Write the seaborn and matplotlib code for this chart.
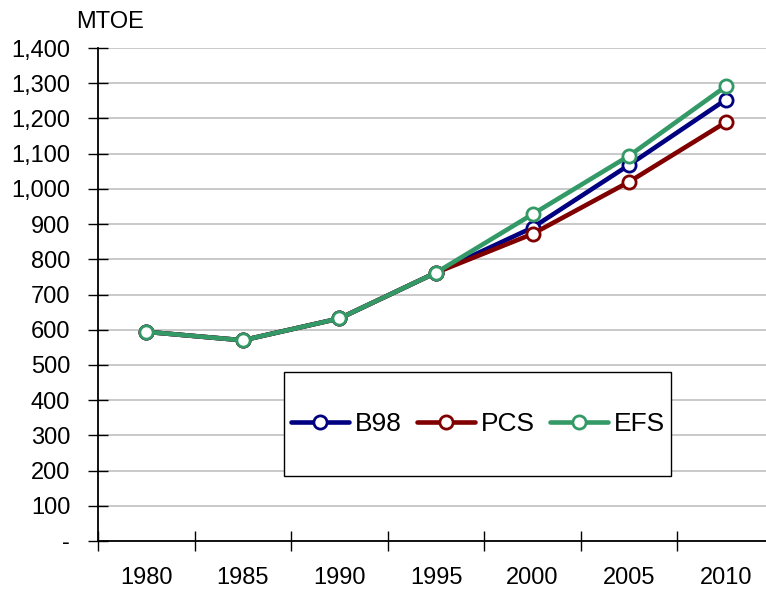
import matplotlib
matplotlib.use("Agg")
import matplotlib.pyplot as plt
import matplotlib.ticker as mticker
from matplotlib.patches import Rectangle
import seaborn as sns

years = ["1980", "1985", "1990", "1995", "2000", "2005", "2010"]
b98 = [594, 570, 632, 762, 890, 1068, 1253]
pcs = [594, 570, 632, 762, 872, 1020, 1189]
efs = [594, 570, 632, 762, 928, 1094, 1291]
series_names = ["B98", "PCS", "EFS"]
colors = ["#000080", "#800000", "#339966"]
y_ticks = list(range(0, 1401, 100))

sns.set_style("white")
plt.rcParams["font.family"] = ["Liberation Sans", "DejaVu Sans"]
plt.rcParams["text.color"] = "black"
plt.rcParams["xtick.color"] = "black"
plt.rcParams["ytick.color"] = "black"
plt.rcParams["axes.labelcolor"] = "black"

fig = plt.figure(figsize=(7.66, 5.90), dpi=100)
ax = fig.add_axes([98 / 766, 49 / 590, 676 / 766, 493 / 590])

for name, vals, col in zip(series_names, [b98, pcs, efs], colors):
    sns.lineplot(x=years, y=vals, ax=ax, color=col, label=name, sort=False,
                 linewidth=3.3, marker="o", markersize=9.5,
                 markerfacecolor="white", markeredgecolor=col,
                 markeredgewidth=2.0, zorder=3)

ax.set_xlim(-0.5, 6.5)
ax.set_ylim(0, 1400)
ax.set_yticks(y_ticks)
ax.yaxis.set_major_formatter(mticker.FuncFormatter(
    lambda v, p: "-" if v == 0 else f"{int(v):,}"))
ax.set_xticks(range(len(years)))
ax.set_xticklabels(years)
ax.set_xticks([i - 0.5 for i in range(len(years) + 1)], minor=True)
ax.tick_params(axis="x", which="major", bottom=True, length=0, pad=19,
               labelsize=17, labelcolor="black")
ax.tick_params(axis="x", which="minor", bottom=True, direction="inout",
               length=14, width=1, color="black")
ax.tick_params(axis="y", which="major", left=True, direction="inout",
               length=14, width=1, color="black", pad=13, labelsize=17,
               labelcolor="black")
ax.set_xlabel("")
ax.set_ylabel("")

ax.grid(axis="y", color="#c0c0c0", linewidth=1.2)
ax.grid(axis="x", visible=False)
ax.set_axisbelow(True)
for s in ["top", "right"]:
    ax.spines[s].set_visible(False)
for s in ["left", "bottom"]:
    ax.spines[s].set_color("black")
    ax.spines[s].set_linewidth(1.3)

rect = Rectangle((0.275, 0.132), 0.573, 0.211, transform=ax.transAxes,
                 facecolor="white", edgecolor="black", linewidth=1.0,
                 zorder=4)
ax.add_patch(rect)
leg = ax.legend(ncol=3, frameon=False, loc="center",
                bbox_to_anchor=(0.562, 0.237), fontsize=19,
                handlelength=2.2, handletextpad=0.2, columnspacing=0.6)
leg.set_zorder(5)
for t in leg.get_texts():
    t.set_color("black")

fig.text(110 / 766, 1 - 22 / 590, "MTOE", fontsize=17, ha="center",
         va="center", color="black")

fig.savefig("out.png", dpi=100)
